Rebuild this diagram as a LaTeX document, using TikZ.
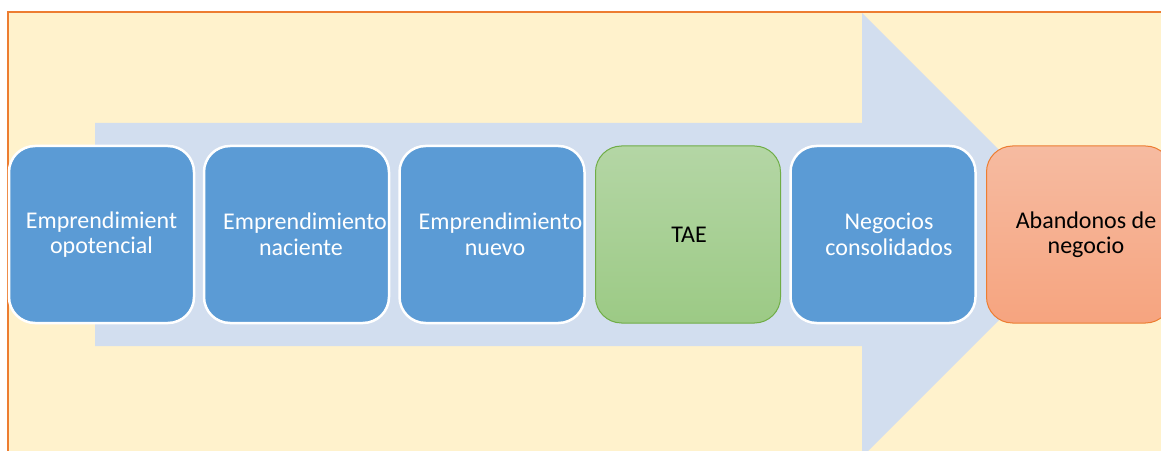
\documentclass[tikz,border=0pt]{standalone}
\usepackage{fontspec}
\setmainfont{Carlito}
\definecolor{bgcream}{HTML}{FFF2CC}
\definecolor{framecol}{HTML}{ED7D31}
\definecolor{arrowcol}{HTML}{D2DEEF}
\definecolor{bluebox}{HTML}{5B9BD5}
\definecolor{greentop}{HTML}{B4D6A5}
\definecolor{greenbot}{HTML}{9CCA85}
\definecolor{greenedge}{HTML}{70AD47}
\definecolor{orangetop}{HTML}{F6BBA1}
\definecolor{orangebot}{HTML}{F6A47F}
\newcommand{\shiftline}[2]{\hspace*{#1}#2}
\tikzset{
  stage/.style={rounded corners=26pt, minimum width=185pt, minimum height=177pt,
    inner sep=0pt, align=center, font=\fontsize{24}{25.5}\selectfont},
  bluestage/.style={stage, fill=bluebox, draw=white, line width=2.5pt, text=white},
  greenstage/.style={stage, top color=greentop, bottom color=greenbot, draw=greenedge, line width=1pt, text=black},
  orangestage/.style={stage, top color=orangetop, bottom color=orangebot, draw=framecol, line width=1pt, text=black}
}
\begin{document}
\begin{tikzpicture}[x=1pt,y=1pt]
\clip (0,0) rectangle (1161,450);
\fill[white] (0,0) rectangle (1161,450);
% background panel
\fill[bgcream] (8,-10) rectangle (1180,438);
\draw[framecol, line width=1.5pt] (8,-10) -- (8,438) -- (1180,438);
% big arrow
\fill[arrowcol] (95,327) -- (862,327) -- (862,437) -- (1084,215) -- (862,-7) -- (862,104) -- (95,104) -- cycle;
% stages
\node[bluestage] (s1) at (101.5,215.5) {Emprendimient\\opotencial};
\node[bluestage] (s2) at (296.5,215.5) {\hspace*{17pt}Emprendimiento\\\hspace*{9pt}naciente};
\node[bluestage] (s3) at (492,215.5) {\hspace*{17pt}Emprendimiento\\\hspace*{6pt}nuevo};
\node[greenstage] (s4) at (688,215.5) {\hspace*{2pt}TAE};
\node[bluestage] (s5) at (883,215.5) {\hspace*{12pt}Negocios\\\hspace*{12pt}consolidados};
\node[orangestage] (s6) at (1079,215.5) {\hspace*{14pt}Abandonos de\\\hspace*{14pt}negocio};
\end{tikzpicture}
\end{document}
